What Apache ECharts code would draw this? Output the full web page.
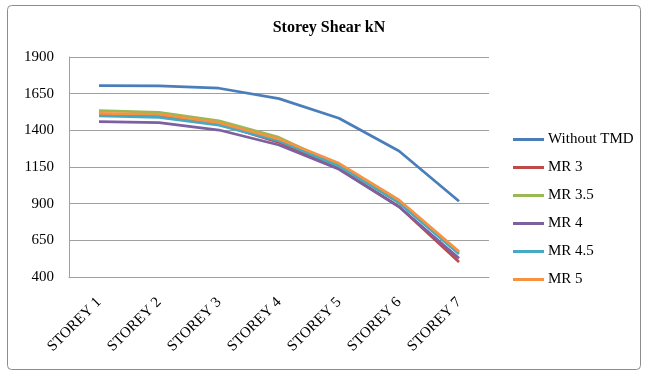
<!DOCTYPE html>
<html>
<head>
<meta charset="utf-8">
<script src="https://cdn.jsdelivr.net/npm/echarts@6/dist/echarts.min.js"></script>
<style>
  html, body { margin: 0; padding: 0; background: #fff; }
  #chart { width: 647px; height: 376px; }
</style>
</head>
<body>
<div id="chart"></div>
<script>
// Storey shear (kN) per storey, with and without tuned mass damper
const storeys = ['STOREY 1', 'STOREY 2', 'STOREY 3', 'STOREY 4', 'STOREY 5', 'STOREY 6', 'STOREY 7'];
const withoutTMD = [1704, 1703, 1687, 1616, 1482, 1259, 916];
const mr3   = [1508, 1500, 1444, 1318, 1140, 880, 502];
const mr35  = [1534, 1523, 1464, 1352, 1158, 905, 565];
const mr4   = [1459, 1452, 1402, 1300, 1134, 879, 527];
const mr45  = [1498, 1489, 1436, 1327, 1156, 907, 557];
const mr5   = [1516, 1509, 1452, 1341, 1175, 925, 573];
const yTicks = [400, 650, 900, 1150, 1400, 1650, 1900];

const seriesDefs = [
  { name: 'Without TMD', data: withoutTMD, color: '#4A7EBB' },
  { name: 'MR 3',        data: mr3,        color: '#BE4B48' },
  { name: 'MR 3.5',      data: mr35,       color: '#98B954' },
  { name: 'MR 4',        data: mr4,        color: '#7D60A0' },
  { name: 'MR 4.5',      data: mr45,       color: '#46AAC5' },
  { name: 'MR 5',        data: mr5,        color: '#F69240' }
];

const serif = '"Liberation Serif", "Times New Roman", serif';
const chart = echarts.init(document.getElementById('chart'), null, { renderer: 'canvas' });

chart.setOption({
  animation: false,
  backgroundColor: '#fff',
  color: seriesDefs.map(s => s.color),
  graphic: [{
    type: 'rect',
    shape: { x: 7.5, y: 5.5, width: 633, height: 364, r: 4 },
    style: { fill: 'none', stroke: '#8c8c8c', lineWidth: 1 },
    silent: true
  }],
  title: {
    text: 'Storey Shear kN',
    left: 329, top: 20, textAlign: 'center', padding: 0,
    textStyle: { fontFamily: serif, fontSize: 16, fontWeight: 'bold', color: '#000' }
  },
  legend: {
    orient: 'vertical',
    left: 513, top: 132, padding: 0,
    itemWidth: 31, itemHeight: 3, itemGap: 13,
    icon: 'rect',
    textStyle: { fontFamily: serif, fontSize: 15, color: '#000', padding: [0, 0, 0, -1] },
    data: seriesDefs.map(s => s.name)
  },
  grid: { left: 69, top: 57, width: 420, height: 220, containLabel: false },
  xAxis: {
    type: 'category',
    data: storeys,
    boundaryGap: true,
    axisLine: { show: true, lineStyle: { color: '#a0a0a0', width: 1 } },
    axisTick: { show: false },
    axisLabel: {
      rotate: 45, margin: 23, interval: 0,
      fontFamily: serif, fontSize: 15, color: '#000'
    },
    splitLine: { show: false }
  },
  yAxis: {
    type: 'value',
    min: yTicks[0], max: yTicks[yTicks.length - 1], interval: 250,
    axisLine: { show: true, lineStyle: { color: '#a0a0a0', width: 1 } },
    axisTick: { show: false },
    axisLabel: {
      margin: 15, fontFamily: serif, fontSize: 15, color: '#000',
      formatter: v => String(v)
    },
    splitLine: { show: true, lineStyle: { color: '#a0a0a0', width: 1 } }
  },
  series: seriesDefs.map(s => ({
    name: s.name,
    type: 'line',
    data: s.data,
    symbol: 'none',
    lineStyle: { width: 2.75, color: s.color },
    itemStyle: { color: s.color }
  }))
});
</script>
</body>
</html>
